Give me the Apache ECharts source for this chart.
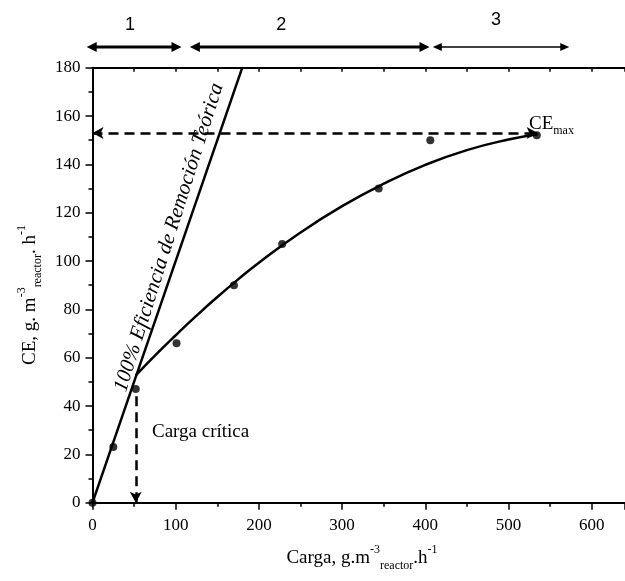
<!DOCTYPE html>
<html>
<head>
<meta charset="utf-8">
<script src="https://cdn.jsdelivr.net/npm/echarts@6/dist/echarts.min.js"></script>
<style>
  html, body { margin: 0; padding: 0; background: #fff; }
  #chart { width: 625px; height: 581px; }
</style>
</head>
<body>
<div id="chart"></div>
<script>
// measured points
const carga = [0, 25, 52, 101, 170, 228, 344, 406, 534];
const ce = [0, 23, 47, 66, 90, 107, 130, 150, 152];

// 100% removal line (CE = carga)
const idealX = [0, 180];
const idealY = [0, 180];

// fitted curve
const curveX = [52, 75, 100, 125, 150, 175, 200, 250, 300, 350, 400, 450, 500, 535];
const curveY = [52.7, 60.9, 69.3, 77.4, 85.1, 92.4, 99.3, 111.8, 122.7, 132.0, 139.8, 145.9, 150.3, 152.5];

// CE max and critical load
const ceMax = 153;
const cargaCritica = 52;

// zones above the plot
const zoneNames = ['1', '2', '3'];
const zoneStart = [-7, 117, 409];
const zoneEnd = [107, 405, 573];
const zoneLabelX = [45, 227, 485];

const serif = '"Liberation Serif", "Times New Roman", serif';
const sans = '"Liberation Sans", Arial, sans-serif';

const chart = echarts.init(document.getElementById('chart'));

const axisLine = { show: true, lineStyle: { color: '#000', width: 2 } };

chart.setOption({
  animation: false,
  grid: { left: 92.5, right: -1, top: 67.7, bottom: 78.3 },
  xAxis: [
    {
      type: 'value', min: 0, max: 640, interval: 100,
      axisLine: axisLine,
      axisTick: { length: 7, lineStyle: { color: '#000', width: 1.5 } },
      minorTick: { show: true, splitNumber: 2, length: 4, lineStyle: { color: '#000', width: 1.5 } },
      splitLine: { show: false },
      axisLabel: { color: '#000', fontFamily: serif, fontSize: 17, margin: 14, showMaxLabel: false }
    },
    {
      type: 'value', position: 'top', min: 0, max: 640, interval: 50,
      axisLine: axisLine,
      axisTick: { inside: true, length: 4, lineStyle: { color: '#000', width: 1.5 } },
      splitLine: { show: false },
      axisLabel: { show: false }
    }
  ],
  yAxis: {
    type: 'value', min: 0, max: 180, interval: 20,
    axisLine: axisLine,
    axisTick: { length: 7, lineStyle: { color: '#000', width: 1.5 } },
    minorTick: { show: true, splitNumber: 2, length: 4, lineStyle: { color: '#000', width: 1.5 } },
    splitLine: { show: false },
    axisLabel: { color: '#000', fontFamily: serif, fontSize: 17, margin: 12 }
  },
  series: [
    {
      type: 'scatter',
      data: carga.map((x, i) => [x, ce[i]]),
      symbolSize: 8,
      itemStyle: { color: '#000' },
      z: 5
    },
    {
      type: 'line',
      data: idealX.map((x, i) => [x, idealY[i]]),
      showSymbol: false,
      lineStyle: { color: '#000', width: 2.5 }
    },
    {
      type: 'line',
      data: curveX.map((x, i) => [x, curveY[i]]),
      smooth: true,
      showSymbol: false,
      lineStyle: { color: '#000', width: 2.5 }
    },
    {
      type: 'line',
      data: [],
      markLine: {
        silent: true,
        symbolSize: [9, 11],
        label: { show: false },
        lineStyle: { color: '#000', width: 2.5, type: [10, 6] },
        data: [
          [{ coord: [0, ceMax], symbol: 'arrow' }, { coord: [535, ceMax], symbol: 'arrow' }],
          [{ coord: [cargaCritica, 44], symbol: 'none' }, { coord: [cargaCritica, 0], symbol: 'arrow' }]
        ]
      }
    }
  ]
});

function px(x, y) {
  return chart.convertToPixel({ seriesIndex: 0 }, [x, y]);
}

const graphics = [];
const zoneY = 188.6;

zoneNames.forEach((name, i) => {
  const a = px(zoneStart[i], zoneY);
  const b = px(zoneEnd[i], zoneY);
  const thin = i === 2;
  const L = thin ? 9 : 10;
  const W = thin ? 4 : 5;
  graphics.push({
    type: 'line',
    shape: { x1: a[0] + L / 2, y1: a[1], x2: b[0] - L / 2, y2: b[1] },
    style: { stroke: '#000', lineWidth: thin ? 1.5 : 3 }
  });
  graphics.push({
    type: 'polygon',
    shape: { points: [[a[0], a[1]], [a[0] + L, a[1] - W], [a[0] + L, a[1] + W]] },
    style: { fill: '#000' }
  });
  graphics.push({
    type: 'polygon',
    shape: { points: [[b[0], b[1]], [b[0] - L, b[1] - W], [b[0] - L, b[1] + W]] },
    style: { fill: '#000' }
  });
  const lp = px(zoneLabelX[i], zoneY);
  graphics.push({
    type: 'text',
    x: lp[0], y: thin ? 20 : 25,
    style: { text: name, fontFamily: sans, fontSize: 18, fill: '#000', align: 'center', verticalAlign: 'middle' }
  });
});

// rotated label along the 100% line (a touch steeper so the italics clear the line)
const p0 = px(0, 0);
const p1 = px(180, 180);
const ang = Math.atan2(p0[1] - p1[1], p1[0] - p0[0]) + 0.025;
const mid = px(108, 108);
graphics.push({
  type: 'text',
  x: mid[0] - 14 * Math.sin(ang),
  y: mid[1] - 14 * Math.cos(ang),
  rotation: ang,
  style: {
    text: '100% Eficiencia de Remoción Teórica',
    fontFamily: serif, fontStyle: 'italic', fontSize: 21, fill: '#000',
    align: 'center', verticalAlign: 'middle'
  }
});

graphics.push({
  type: 'text',
  x: 152, y: 432,
  style: { text: 'Carga crítica', fontFamily: serif, fontSize: 19, fill: '#000', verticalAlign: 'middle' }
});

graphics.push({
  type: 'text',
  x: 529, y: 124,
  style: {
    text: '{m|CE}{sub|max}',
    verticalAlign: 'middle',
    rich: {
      m: { fontFamily: serif, fontSize: 19, color: '#000', lineHeight: 26, verticalAlign: 'middle' },
      sub: { fontFamily: serif, fontSize: 12, color: '#000', lineHeight: 12, verticalAlign: 'bottom' }
    }
  }
});

const richTitle = {
  m: { fontFamily: serif, fontSize: 19, color: '#000', lineHeight: 28, verticalAlign: 'middle' },
  sup: { fontFamily: serif, fontSize: 12, color: '#000', lineHeight: 12, verticalAlign: 'top' },
  sub: { fontFamily: serif, fontSize: 12, color: '#000', lineHeight: 12, verticalAlign: 'bottom' }
};

graphics.push({
  type: 'text',
  x: 362, y: 558,
  style: {
    text: '{m|Carga, g.m}{sup|-3}{sub|reactor}{m|.h}{sup|-1}',
    align: 'center', verticalAlign: 'middle',
    rich: richTitle
  }
});

graphics.push({
  type: 'text',
  x: 30, y: 295,
  rotation: Math.PI / 2,
  style: {
    text: '{m|CE, g. m}{sup|-3}{sub|reactor}{m|. h}{sup|-1}',
    align: 'center', verticalAlign: 'middle',
    rich: richTitle
  }
});

chart.setOption({ graphic: graphics });
</script>
</body>
</html>
